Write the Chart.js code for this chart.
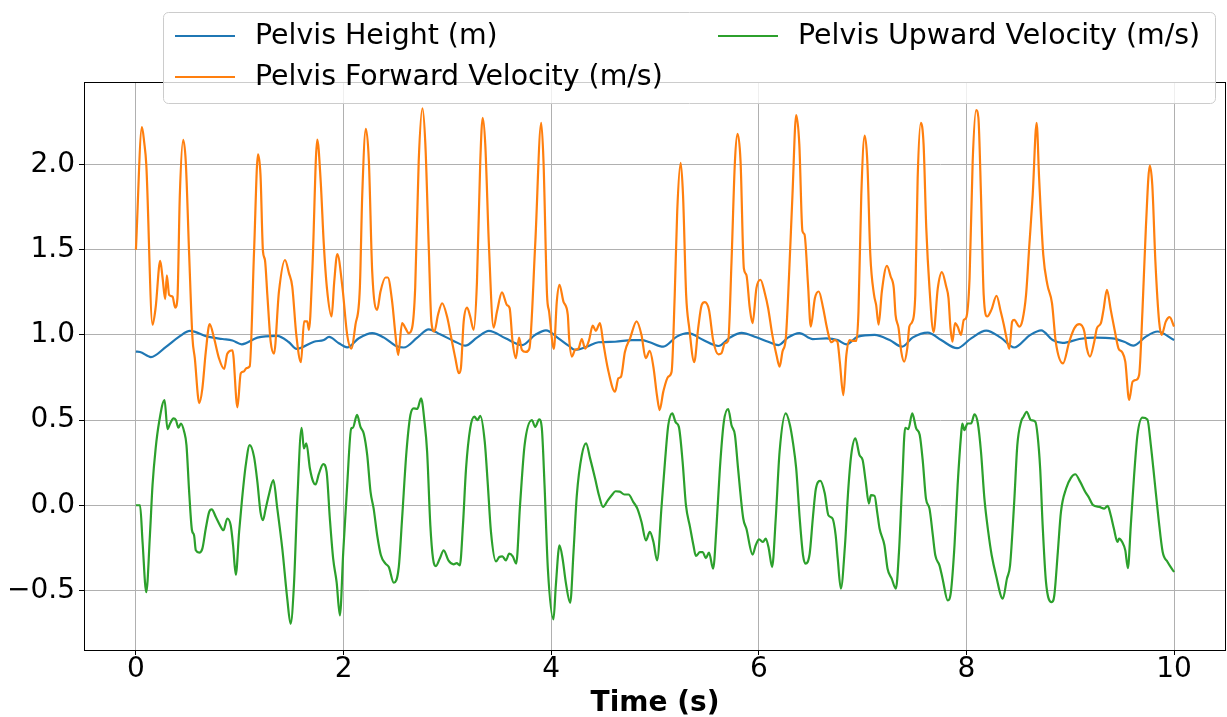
<!DOCTYPE html>
<html>
<head>
<meta charset="utf-8">
<script src="https://cdn.jsdelivr.net/npm/chart.js@4.4.1/dist/chart.umd.min.js"></script>
<style>
    html, body { margin: 0; padding: 0; background: #ffffff; }
    canvas { display: block; }
</style>
</head>
<body>
<canvas id="chart" width="1227" height="717"></canvas>
<script>
const xTicks = [0, 2, 4, 6, 8, 10];
const yTicks = [-0.5, 0, 0.5, 1, 1.5, 2];
const seriesLabels = ["Pelvis Height (m)", "Pelvis Forward Velocity (m/s)", "Pelvis Upward Velocity (m/s)"];
const seriesColors = ["#1f77b4", "#ff7f0e", "#2ca02c"];

// Pelvis height
const heightTime = [0, 0.04, 0.144, 0.29, 0.417, 0.52, 0.69, 0.834, 0.93, 1.02, 1.17, 1.36, 1.474, 1.548, 1.715, 1.81, 1.86,
    1.955, 2.035, 2.147, 2.276, 2.39, 2.5, 2.58, 2.71, 2.82, 2.93, 3.06, 3.173, 3.285, 3.4, 3.56, 3.72, 3.846, 3.95, 4.07,
    4.167, 4.23, 4.343, 4.455, 4.615, 4.776, 4.87, 4.95, 5.08, 5.21, 5.32, 5.465, 5.61, 5.72, 5.834, 5.977, 6.09, 6.19, 6.28,
    6.39, 6.52, 6.65, 6.76, 6.843, 6.955, 7.115, 7.26, 7.38, 7.48, 7.628, 7.756, 7.91, 8.045, 8.19, 8.33, 8.46, 8.606, 8.72,
    8.83, 8.926, 9.087, 9.247, 9.407, 9.52, 9.606, 9.728, 9.84, 10];
const heightValues = [0.902, 0.9, 0.87, 0.93, 0.99, 1.024, 0.99, 0.976, 0.967, 0.945, 0.984, 0.994, 0.957, 0.918, 0.96, 0.97, 0.988,
    0.951, 0.927, 0.98, 1.01, 0.984, 0.937, 0.926, 0.984, 1.033, 1.004, 0.965, 0.937, 0.984, 1.024, 0.98, 0.94, 1.0, 1.027, 0.98,
    0.937, 0.912, 0.931, 0.957, 0.96, 0.97, 0.97, 0.957, 0.931, 0.99, 1.01, 0.97, 0.935, 0.984, 1.012, 0.986, 0.96, 0.94, 0.984,
    1.01, 0.975, 0.98, 0.97, 0.945, 0.99, 1.0, 0.97, 0.931, 0.984, 1.014, 0.97, 0.922, 0.98, 1.025, 0.984, 0.926, 0.996, 1.027,
    0.97, 0.953, 0.976, 0.984, 0.98, 0.96, 0.937, 0.99, 1.02, 0.97];

// Pelvis forward velocity
const forwardTime = [0, 0.058, 0.08, 0.1, 0.16, 0.19, 0.234, 0.256, 0.282, 0.298, 0.32, 0.353, 0.378, 0.4, 0.423, 0.455, 0.48,
    0.513, 0.545, 0.567, 0.61, 0.64, 0.673, 0.71, 0.753, 0.8, 0.85, 0.88, 0.93, 0.978, 1.01, 1.04, 1.064, 1.096, 1.138, 1.176,
    1.2, 1.224, 1.243, 1.266, 1.298, 1.33, 1.378, 1.436, 1.474, 1.506, 1.545, 1.59, 1.62, 1.65, 1.667, 1.7, 1.747, 1.78, 1.81,
    1.84, 1.885, 1.91, 1.94, 1.99, 2.035, 2.074, 2.115, 2.157, 2.18, 2.215, 2.244, 2.276, 2.324, 2.356, 2.404, 2.426, 2.468,
    2.5, 2.526, 2.564, 2.596, 2.628, 2.66, 2.69, 2.724, 2.76, 2.788, 2.82, 2.846, 2.875, 2.91, 2.95, 2.997, 3.045, 3.077, 3.11,
    3.13, 3.157, 3.19, 3.22, 3.253, 3.285, 3.317, 3.34, 3.365, 3.4, 3.445, 3.478, 3.526, 3.574, 3.6, 3.628, 3.66, 3.69, 3.718,
    3.756, 3.79, 3.846, 3.904, 3.926, 3.96, 3.98, 4.026, 4.054, 4.08, 4.118, 4.16, 4.173, 4.2, 4.23, 4.263, 4.295, 4.327, 4.365,
    4.4, 4.43, 4.47, 4.5, 4.545, 4.615, 4.647, 4.673, 4.71, 4.76, 4.823, 4.87, 4.91, 4.95, 4.985, 5.02, 5.045, 5.08, 5.128,
    5.16, 5.19, 5.214, 5.247, 5.27, 5.3, 5.33, 5.378, 5.416, 5.45, 5.48, 5.52, 5.56, 5.61, 5.64, 5.673, 5.705, 5.737, 5.77,
    5.795, 5.824, 5.856, 5.88, 5.913, 5.94, 5.977, 6.016, 6.058, 6.09, 6.13, 6.17, 6.2, 6.228, 6.26, 6.29, 6.324, 6.36, 6.39,
    6.42, 6.44, 6.474, 6.5, 6.54, 6.577, 6.62, 6.65, 6.68, 6.7, 6.73, 6.757, 6.78, 6.814, 6.843, 6.875, 6.907, 6.94, 6.96,
    6.987, 7.02, 7.045, 7.074, 7.11, 7.13, 7.154, 7.185, 7.234, 7.27, 7.3, 7.317, 7.346, 7.372, 7.4, 7.43, 7.45, 7.478, 7.507,
    7.53, 7.56, 7.587, 7.613, 7.644, 7.683, 7.724, 7.763, 7.805, 7.827, 7.846, 7.865, 7.89, 7.915, 7.948, 7.974, 7.997, 8.03,
    8.06, 8.093, 8.115, 8.14, 8.166, 8.2, 8.24, 8.29, 8.33, 8.36, 8.38, 8.413, 8.44, 8.46, 8.51, 8.54, 8.574, 8.606, 8.638,
    8.676, 8.7, 8.74, 8.78, 8.824, 8.86, 8.93, 8.99, 9.04, 9.087, 9.135, 9.16, 9.19, 9.23, 9.257, 9.295, 9.32, 9.353, 9.39,
    9.43, 9.465, 9.5, 9.53, 9.567, 9.6, 9.63, 9.663, 9.695, 9.728, 9.766, 9.79, 9.82, 9.856, 9.88, 9.92, 9.957, 10];
const forwardValues = [1.5, 2.22, 2.13, 2.0, 1.06, 1.16, 1.435, 1.34, 1.21, 1.35, 1.235, 1.225, 1.16, 1.215, 1.82, 2.145, 2.02,
    1.47, 0.98, 0.865, 0.6, 0.685, 0.9, 1.063, 0.98, 0.863, 0.8, 0.89, 0.91, 0.575, 0.775, 0.785, 0.805, 0.815, 1.49, 2.06,
    1.94, 1.49, 1.44, 1.235, 0.96, 0.89, 1.255, 1.44, 1.363, 1.284, 1.0, 0.84, 1.08, 1.08, 1.03, 1.39, 2.147, 1.9, 1.53,
    1.275, 1.108, 1.31, 1.475, 1.275, 1.0, 0.92, 1.06, 1.275, 1.82, 2.21, 2.02, 1.373, 1.147, 1.255, 1.337, 1.337, 1.196,
    1.0, 0.882, 1.069, 1.04, 1.01, 1.04, 1.275, 2.02, 2.33, 2.12, 1.53, 1.078, 1.02, 1.118, 1.186, 1.108, 0.96, 0.863, 0.775,
    0.804, 1.078, 1.16, 1.108, 1.03, 1.31, 2.02, 2.275, 2.12, 1.53, 1.043, 1.137, 1.25, 1.176, 1.157, 0.96, 0.863, 0.984, 0.912,
    0.9, 0.92, 1.53, 2.245, 2.02, 1.235, 1.137, 0.918, 1.196, 1.294, 1.196, 1.118, 0.98, 0.873, 0.912, 0.92, 0.976, 0.92, 0.97,
    1.055, 1.024, 1.069, 0.96, 0.804, 0.667, 0.745, 0.755, 0.9, 0.98, 1.08, 1.0, 0.863, 0.906, 0.81, 0.64, 0.559, 0.667, 0.755,
    0.784, 1.235, 1.725, 2.01, 1.82, 1.235, 1.04, 0.84, 1.04, 1.176, 1.192, 1.147, 0.97, 0.886, 0.892, 0.951, 0.965, 1.43, 2.02,
    2.18, 2.02, 1.39, 1.353, 1.157, 1.069, 1.275, 1.324, 1.245, 1.157, 1.0, 0.882, 0.814, 0.902, 0.98, 1.333, 1.82, 2.29, 2.12,
    1.61, 1.59, 1.294, 1.049, 1.216, 1.255, 1.157, 1.06, 0.98, 0.957, 0.97, 0.96, 0.843, 0.647, 0.882, 0.97, 0.965, 0.965, 1.137,
    1.82, 2.17, 2.02, 1.47, 1.235, 1.176, 1.06, 1.255, 1.406, 1.343, 1.275, 1.118, 1.04, 0.902, 0.843, 0.922, 1.049, 1.078, 1.235,
    1.92, 2.245, 2.12, 1.627, 1.275, 1.016, 1.275, 1.369, 1.284, 1.216, 1.04, 0.96, 1.069, 1.049, 1.0, 1.088, 1.1, 1.333,
    2.02, 2.32, 2.275, 1.82, 1.235, 1.108, 1.147, 1.23, 1.137, 1.06, 1.0, 0.918, 1.078, 1.088, 1.049, 1.088, 1.235, 1.53, 1.82,
    2.245, 1.92, 1.47, 1.294, 1.186, 0.96, 0.833, 0.96, 1.04, 1.063, 1.02, 0.92, 0.873, 0.957, 1.04, 1.069, 1.147, 1.265, 1.147,
    1.02, 0.92, 0.898, 0.843, 0.618, 0.725, 0.735, 0.765, 1.137, 1.627, 1.994, 1.88, 1.43, 1.078, 1.0, 1.078, 1.104, 1.049];

// Pelvis upward velocity
const upwardTime = [0, 0.04, 0.064, 0.1, 0.135, 0.16, 0.19, 0.224, 0.276, 0.304, 0.33, 0.362, 0.385, 0.41, 0.433, 0.465, 0.487,
    0.513, 0.54, 0.56, 0.577, 0.61, 0.64, 0.673, 0.705, 0.73, 0.77, 0.81, 0.843, 0.88, 0.913, 0.936, 0.962, 0.994, 1.02, 1.058,
    1.096, 1.138, 1.17, 1.2, 1.224, 1.25, 1.28, 1.324, 1.362, 1.41, 1.458, 1.49, 1.522, 1.554, 1.596, 1.618, 1.642, 1.676,
    1.708, 1.73, 1.763, 1.805, 1.837, 1.868, 1.9, 1.933, 1.965, 1.997, 2.035, 2.074, 2.09, 2.13, 2.163, 2.195, 2.228, 2.26,
    2.29, 2.324, 2.36, 2.404, 2.436, 2.484, 2.532, 2.564, 2.606, 2.644, 2.676, 2.71, 2.747, 2.78, 2.805, 2.836, 2.862, 2.89,
    2.926, 2.965, 3.01, 3.06, 3.09, 3.12, 3.15, 3.18, 3.22, 3.26, 3.29, 3.317, 3.36, 3.39, 3.42, 3.468, 3.5, 3.53, 3.564, 3.596,
    3.63, 3.663, 3.7, 3.744, 3.814, 3.846, 3.885, 3.91, 3.936, 3.968, 4.022, 4.045, 4.08, 4.11, 4.14, 4.183, 4.215, 4.247,
    4.295, 4.336, 4.375, 4.423, 4.46, 4.5, 4.545, 4.583, 4.62, 4.66, 4.705, 4.745, 4.79, 4.83, 4.87, 4.913, 4.95, 4.985, 5.02,
    5.064, 5.096, 5.128, 5.166, 5.2, 5.23, 5.266, 5.298, 5.337, 5.37, 5.394, 5.433, 5.46, 5.49, 5.52, 5.56, 5.593, 5.625,
    5.663, 5.705, 5.737, 5.77, 5.8, 5.85, 5.88, 5.94, 5.97, 6.003, 6.04, 6.067, 6.096, 6.128, 6.163, 6.2, 6.26, 6.3, 6.33,
    6.36, 6.394, 6.426, 6.45, 6.49, 6.52, 6.55, 6.593, 6.635, 6.67, 6.71, 6.74, 6.76, 6.79, 6.83, 6.86, 6.89, 6.93, 6.97, 7.0,
    7.03, 7.06, 7.08, 7.115, 7.14, 7.163, 7.21, 7.24, 7.28, 7.32, 7.35, 7.38, 7.41, 7.44, 7.478, 7.516, 7.55, 7.58, 7.61,
    7.644, 7.676, 7.7, 7.74, 7.77, 7.82, 7.85, 7.885, 7.915, 7.948, 7.96, 7.98, 8.01, 8.045, 8.077, 8.11, 8.14, 8.173, 8.21,
    8.243, 8.285, 8.35, 8.39, 8.42, 8.46, 8.49, 8.526, 8.55, 8.58, 8.62, 8.663, 8.685, 8.71, 8.734, 8.766, 8.82, 8.846, 8.88,
    8.91, 8.96, 9.006, 9.048, 9.096, 9.145, 9.176, 9.22, 9.28, 9.327, 9.36, 9.39, 9.42, 9.455, 9.47, 9.5, 9.53, 9.555, 9.583,
    9.615, 9.647, 9.695, 9.743, 9.776, 9.81, 9.85, 9.89, 9.937, 10];
const upwardValues = [0, 0, -0.216, -0.51, -0.176, 0.118, 0.333, 0.49, 0.618, 0.447, 0.48, 0.51, 0.5, 0.455, 0.48, 0.431, 0.353,
    0.078, -0.147, -0.176, -0.265, -0.278, -0.255, -0.137, -0.04, -0.024, -0.069, -0.118, -0.147, -0.078, -0.118, -0.235, -0.408,
    -0.157, 0.02, 0.235, 0.353, 0.284, 0.137, -0.04, -0.088, -0.02, 0.059, 0.147, -0.02, -0.255, -0.55, -0.696, -0.47, 0.02,
    0.455, 0.333, 0.363, 0.216, 0.137, 0.122, 0.186, 0.241, 0.196, -0.078, -0.314, -0.45, -0.647, -0.275, 0.118, 0.451, 0.455,
    0.53, 0.46, 0.42, 0.294, 0.078, -0.02, -0.176, -0.294, -0.343, -0.363, -0.455, -0.363, -0.078, 0.314, 0.53, 0.569, 0.565,
    0.627, 0.49, 0.314, -0.118, -0.314, -0.357, -0.314, -0.265, -0.324, -0.347, -0.34, -0.353, -0.118, 0.216, 0.451, 0.52, 0.5,
    0.525, 0.373, 0.118, -0.157, -0.33, -0.304, -0.3, -0.324, -0.284, -0.3, -0.343, 0.0, 0.353, 0.5, 0.46, 0.504, 0.451, 0.118,
    -0.373, -0.67, -0.47, -0.235, -0.314, -0.45, -0.573, -0.275, 0.059, 0.294, 0.363, 0.275, 0.157, 0.059, -0.01, 0.029, 0.059,
    0.082, 0.08, 0.063, 0.063, 0.02, -0.02, -0.098, -0.206, -0.157, -0.216, -0.324, 0.0, 0.255, 0.47, 0.539, 0.486, 0.46, 0.255,
    0.0, -0.127, -0.235, -0.298, -0.275, -0.275, -0.31, -0.278, -0.373, -0.118, 0.216, 0.49, 0.565, 0.47, 0.412, 0.216, -0.078,
    -0.137, -0.29, -0.235, -0.2, -0.216, -0.196, -0.255, -0.363, -0.078, 0.314, 0.539, 0.47, 0.363, 0.216, -0.078, -0.294,
    -0.343, -0.284, -0.078, 0.098, 0.143, 0.07, -0.059, -0.078, -0.176, -0.314, -0.49, -0.235, 0.078, 0.294, 0.392, 0.294,
    0.265, 0.137, 0.01, 0.059, 0.055, -0.04, -0.137, -0.235, -0.373, -0.431, -0.49, -0.275, 0.118, 0.455, 0.447, 0.539, 0.451,
    0.412, 0.255, 0.039, -0.02, -0.176, -0.294, -0.353, -0.431, -0.559, -0.51, -0.235, 0.118, 0.412, 0.48, 0.441, 0.48, 0.48,
    0.533, 0.48, 0.314, 0.039, -0.157, -0.294, -0.412, -0.549, -0.431, -0.353, 0.02, 0.353, 0.49, 0.52, 0.549, 0.5, 0.49, 0.412,
    0.216, -0.118, -0.45, -0.569, -0.53, -0.275, -0.04, 0.098, 0.161, 0.182, 0.137, 0.078, 0.049, 0.0, -0.01, -0.02, -0.004,
    -0.059, -0.137, -0.216, -0.196, -0.216, -0.265, -0.369, -0.118, 0.176, 0.412, 0.514, 0.504, 0.353, 0.157, -0.078, -0.275,
    -0.333, -0.392];

const FONT = "'DejaVu Sans', sans-serif";

/**
 * Baut aus Zeit- und Wertliste die Punkte für Chart.js
 */
function toPoints(times, values) {
    return times.map((t, i) => ({ x: t, y: values[i] }));
}

// Rahmen um die Zeichenfläche (wie die Spines bei matplotlib)
const framePlugin = {
    id: "frame",
    afterDatasetsDraw(chart) {
        const { ctx, chartArea } = chart;
        ctx.save();
        ctx.strokeStyle = "#000000";
        ctx.lineWidth = 1;
        ctx.strokeRect(chartArea.left + 0.5, chartArea.top + 0.5,
            chartArea.right - chartArea.left - 1, chartArea.bottom - chartArea.top);
        ctx.restore();
    }
};

// Legende mit zwei Spalten, die oben über der Zeichenfläche liegt
const legendPlugin = {
    id: "floatingLegend",
    afterDraw(chart) {
        const ctx = chart.ctx;
        const slots = [[175, 36], [175, 77], [718, 36]];
        ctx.save();
        ctx.beginPath();
        ctx.roundRect(163.5, 12.5, 1052, 91, 5);
        ctx.fillStyle = "rgba(255,255,255,0.8)";
        ctx.fill();
        ctx.strokeStyle = "#cccccc";
        ctx.lineWidth = 1;
        ctx.stroke();

        ctx.font = "28.4px " + FONT;
        ctx.textBaseline = "middle";
        ctx.textAlign = "left";
        chart.data.datasets.forEach((ds, i) => {
            const [x, y] = slots[i];
            ctx.strokeStyle = ds.borderColor;
            ctx.lineWidth = 2.2;
            ctx.beginPath();
            ctx.moveTo(x, y);
            ctx.lineTo(x + 60, y);
            ctx.stroke();
            ctx.fillStyle = "#000000";
            ctx.fillText(ds.label, x + 80, y + 1);
        });
        ctx.restore();
    }
};

function createChart() {
    const canvas = document.getElementById("chart");
    const series = [
        toPoints(heightTime, heightValues),
        toPoints(forwardTime, forwardValues),
        toPoints(upwardTime, upwardValues)
    ];

    new Chart(canvas, {
        type: "line",
        data: {
            datasets: series.map((points, i) => ({
                label: seriesLabels[i],
                data: points,
                borderColor: seriesColors[i],
                borderWidth: 2.2,
                pointRadius: 0,
                cubicInterpolationMode: "monotone",
                order: 3 - i
            }))
        },
        options: {
            responsive: false,
            animation: false,
            devicePixelRatio: 1,
            layout: { padding: { top: 82, right: 1, left: 0, bottom: 0 } },
            plugins: {
                legend: { display: false },
                tooltip: { enabled: false }
            },
            scales: {
                x: {
                    type: "linear",
                    min: -0.5,
                    max: 10.5,
                    afterBuildTicks: scale => { scale.ticks = xTicks.map(v => ({ value: v })); },
                    afterFit: scale => { scale.height = 67; },
                    grid: { color: "#b0b0b0", lineWidth: 1, tickLength: 5, tickColor: "#000000" },
                    border: { display: false },
                    ticks: {
                        color: "#000000",
                        padding: 1,
                        maxRotation: 0,
                        font: { family: FONT, size: 28, lineHeight: 1 },
                        callback: v => String(v)
                    },
                    title: {
                        display: true,
                        text: "Time (s)",
                        color: "#000000",
                        padding: { top: 0, bottom: -1 },
                        font: { family: FONT, size: 28, weight: "bold", lineHeight: 1 }
                    }
                },
                y: {
                    min: -0.85,
                    max: 2.485,
                    afterBuildTicks: scale => { scale.ticks = yTicks.map(v => ({ value: v })); },
                    afterFit: scale => { scale.width = 84; },
                    grid: { color: "#b0b0b0", lineWidth: 1, tickLength: 5, tickColor: "#000000" },
                    border: { display: false },
                    ticks: {
                        color: "#000000",
                        padding: 4,
                        font: { family: FONT, size: 28 },
                        callback: v => v.toFixed(1).replace("-", "\u2212")
                    }
                }
            }
        },
        plugins: [framePlugin, legendPlugin]
    });
}

createChart();
</script>
</body>
</html>
